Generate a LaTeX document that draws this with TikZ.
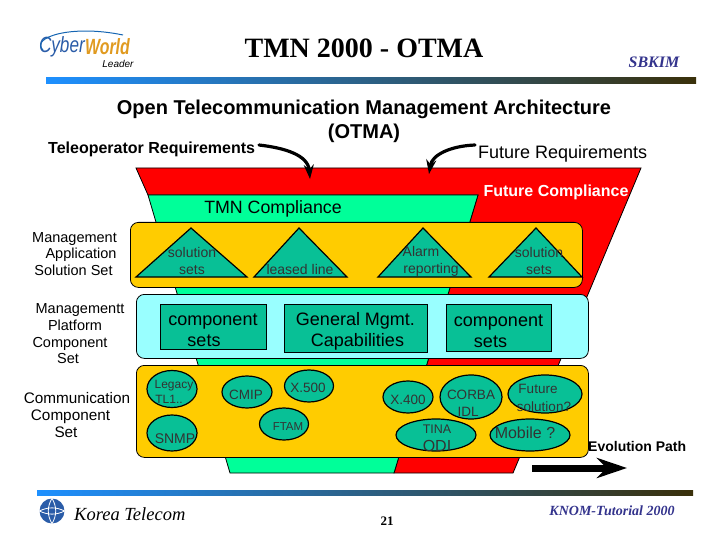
\documentclass[tikz,border=0pt]{standalone}
\usepackage{fontspec}
\setmainfont{Liberation Sans}
\newfontfamily\serifface{Liberation Serif}
\usetikzlibrary{shapes.geometric, arrows.meta, positioning}
\definecolor{funnelred}{HTML}{FF0000}
\definecolor{funnelgreen}{HTML}{00FF99}
\definecolor{bandyellow}{HTML}{FFCC00}
\definecolor{bandcyan}{HTML}{99FFFF}
\definecolor{shapeteal}{HTML}{08C096}
\definecolor{barblue}{HTML}{1E90FF}
\definecolor{bardark}{HTML}{3A300A}
\definecolor{inkblue}{HTML}{33338C}
\definecolor{logoblue}{HTML}{2A5CA8}
\definecolor{logoorange}{HTML}{E09A20}

\begin{document}
\begin{tikzpicture}[
				x=1pt,
				y=-1pt,
				funnel/.style={
					draw,
					line width=0.8pt
				},
				band/.style={
					draw,
					rectangle,
					rounded corners=8pt,
					line width=0.8pt,
					inner sep=0pt,
					anchor=north west
				},
				tri/.style={
					draw,
					fill=shapeteal,
					line width=1.2pt,
					line join=miter
				},
				sharpbox/.style={
					draw,
					rectangle,
					fill=shapeteal,
					inner sep=0pt,
					align=center,
					line width=0.6pt,
					font=\fontsize{18}{21}\selectfont
				},
				oval/.style={
					draw,
					ellipse,
					fill=shapeteal,
					inner sep=0pt,
					line width=1.2pt
				},
				caption/.style={
					align=center,
					inner sep=0pt,
					font=\fontsize{14}{17}\selectfont,
					text=black!80
				},
				side/.style={
					align=center,
					inner sep=0pt,
					font=\fontsize{14.5}{16.7}\selectfont
				},
				bar/.style={
					left color=barblue,
					right color=bardark,
					draw=none
				},
				bendarrow/.style={
					-{Stealth[length=5mm, width=3.5mm]},
					line width=3.2pt,
					line cap=round
				}
				]
				\useasboundingbox (0,0) rectangle (720,540);
				
				% Header
				\node[font=\serifface\bfseries\fontsize{28}{30}\selectfont, inner sep=0pt] (title) at (364,48) {TMN 2000 - OTMA};
				\node[font=\serifface\bfseries\itshape\fontsize{16}{18}\selectfont, text=inkblue, inner sep=0pt] (author) at (654,62) {SBKIM};
				\shade[bar] (46,78) rectangle (696,84);
				
				% Logo
				\node[font=\itshape\fontsize{22}{23}\selectfont, text=logoblue, inner sep=0pt, anchor=east] (cyber) at (85,47) {\scalebox{.78}[1]{Cyber}};
				\node[font=\itshape\bfseries\fontsize{22}{23}\selectfont, text=logoorange, inner sep=0pt, anchor=west] (world) at (85,47) {\scalebox{.72}[1]{World}};
				\node[font=\itshape\fontsize{10}{11}\selectfont, inner sep=0pt] (leader) at (118,64) {Leader};
				\draw[barblue!70!black, line width=1pt] (43,50) .. controls (30,38) and (70,24) .. (123,35);
				
				% Headings
				\node[font=\bfseries\fontsize{20}{24}\selectfont, align=center, inner sep=0pt] (heading) at (364,121) {Open Telecommunication Management Architecture\\(OTMA)};
				\node[font=\bfseries\fontsize{16}{18}\selectfont, inner sep=0pt, anchor=west] (teleop) at (48,149) {Teleoperator Requirements};
				\node[font=\fontsize{18}{20}\selectfont, inner sep=0pt, anchor=west] (future) at (478,154) {Future Requirements};
				
				% Funnel
				\draw[funnel, fill=funnelred] (136,168) -- (641,168) -- (513,473) -- (394,473) -- (478,195) -- (148,195) -- cycle;
				\draw[funnel, fill=funnelgreen] (148,195) -- (478,195) -- (394,473) -- (230,473) -- cycle;
				\node[font=\bfseries\fontsize{16}{18}\selectfont, text=white, inner sep=0pt] (futurecomp) at (556,192) {Future Compliance};
				\node[font=\fontsize{17.8}{20}\selectfont, inner sep=0pt] (tmncomp) at (273,209) {TMN Compliance};
				
				% Arrows into the funnel
				\coordinate (teleopstart) at (259,145);
				\coordinate (teleopend) at (310,179);
				\coordinate (futurestart) at (475,145);
				\coordinate (futureend) at (429,174);
				\draw[bendarrow] (teleopstart) .. controls (285,148) and (308,155) .. (teleopend);
				\draw[bendarrow] (futurestart) .. controls (450,146) and (432,155) .. (futureend);
				
				% Left side labels
				\node[side] (solutionset) at (77,254) {Management\kern5pt\\\hspace*{8pt}Application\\Solution Set\kern7pt};
				\node[side] (platformset) at (80,334) {Managementt\\Platform\kern10pt\\Component\kern20pt\\Set\kern24pt};
				\node[side, font=\fontsize{15.3}{16.7}\selectfont] (commset) at (77,415) {Communication\\Component\kern13pt\\Set\kern22pt};
				
				% Solution band
				\node[band, fill=bandyellow, minimum width=452, minimum height=65] (solutionband) at (130,222) {};
				\draw[tri] (136,277) -- (191,228) -- (247,277) -- cycle;
				\draw[tri] (254,277) -- (299,228) -- (347,277) -- cycle;
				\draw[tri] (378,277) -- (423,228) -- (471,277) -- cycle;
				\draw[tri] (489,277) -- (536,228) -- (582,277) -- cycle;
				\node[caption] (solutionone) at (192,261) {solution\\sets};
				\node[caption] (leased) at (300,269) {leased line};
				\node[caption] (alarm) at (431,261) {Alarm\kern20pt\\reporting};
				\node[caption] (solutiontwo) at (539,261) {solution\\sets};
				
				% Component band
				\node[band, fill=bandcyan, minimum width=452, minimum height=64] (componentband) at (136,294) {};
				\node[sharpbox, minimum width=106, minimum height=45] (componentone) at (213,326.5) {\rule{0pt}{19pt}component\\sets\kern18pt};
				\node[sharpbox, minimum width=143, minimum height=48] (general) at (355.5,328) {\rule{0pt}{19pt}General Mgmt.\\\hspace*{4pt}Capabilities};
				\node[sharpbox, minimum width=105, minimum height=47] (componenttwo) at (498.5,327.5) {\rule{0pt}{19pt}component\\sets\kern16pt};
				
				% Communication band
				\node[band, fill=bandyellow, minimum width=452, minimum height=92] (commband) at (136,365) {};
				\node[oval, minimum width=50, minimum height=37] (legacy) at (172,389) {};
				\node[oval, minimum width=50, minimum height=36] (snmp) at (172,433) {};
				\node[oval, minimum width=50, minimum height=32] (cmip) at (247,392) {};
				\node[oval, minimum width=49, minimum height=32] (xfivehundred) at (309,386) {};
				\node[oval, minimum width=49, minimum height=32] (ftam) at (284,424) {};
				\node[oval, minimum width=50, minimum height=32] (xfourhundred) at (408,397) {};
				\node[oval, minimum width=62, minimum height=44] (corba) at (471,397) {};
				\node[oval, minimum width=74, minimum height=38] (futuresol) at (545,394) {};
				\node[oval, minimum width=80, minimum height=32] (tina) at (436,435) {};
				\node[oval, minimum width=80, minimum height=32] (mobile) at (530,435) {};
				
				\node[caption, font=\fontsize{12}{15}\selectfont] (legacytext) at (172,392) {\hspace*{4pt}Legacy\\TL1..\kern6pt};
				\node[caption] (snmptext) at (175,439) {SNMP};
				\node[caption, font=\fontsize{13.5}{15}\selectfont] (cmiptext) at (246,395) {CMIP};
				\node[caption, font=\fontsize{13.5}{15}\selectfont] (xfivehundredtext) at (308,388) {X.500};
				\node[caption, font=\fontsize{11.5}{13}\selectfont] (ftamtext) at (288,427) {FTAM};
				\node[caption, font=\fontsize{13.5}{15}\selectfont] (xfourhundredtext) at (408,400) {X.400};
				\node[caption, font=\fontsize{13.5}{17}\selectfont] (corbatext) at (471,403) {CORBA\\IDL\kern6pt};
				\node[caption, font=\fontsize{13.5}{18}\selectfont] (futuresoltext) at (544,398) {Future\kern12pt\\solution?};
				\node[caption, font=\fontsize{12.5}{18}\selectfont] (tinatext) at (437,438) {TINA\\{\fontsize{16}{18}\selectfont ODI}};
				\node[caption, font=\fontsize{16}{18}\selectfont] (mobiletext) at (525,433) {Mobile ?};
				
				% Evolution path
				\coordinate (evostart) at (532,468);
				\coordinate (evoend) at (627,468);
				\draw[-{Stealth[length=30pt, width=20pt]}, line width=7pt] (evostart) -- (evoend);
				\node[font=\bfseries\fontsize{14}{16}\selectfont, inner sep=0pt, anchor=west] (evolution) at (588,446) {Evolution Path};
				
				% Footer
				\shade[bar] (37,490) rectangle (693,495);
				\node[draw=none, circle, fill=logoblue, minimum size=25, inner sep=0pt] (globe) at (52,511) {};
				\draw[white, line width=0.8pt] (globe.west) to[bend left=25] (globe.east);
				\draw[white, line width=0.8pt] (globe.west) to[bend right=25] (globe.east);
				\draw[white, line width=0.8pt] (globe.north) to[bend left=30] (globe.south);
				\draw[white, line width=0.8pt] (globe.north) to[bend right=30] (globe.south);
				\node[font=\serifface\itshape\fontsize{18.5}{20}\selectfont, inner sep=0pt, anchor=west] (telecom) at (74,514) {Korea Telecom};
				\node[font=\serifface\bfseries\fontsize{13}{15}\selectfont, inner sep=0pt] (pagenum) at (387,521) {21};
				\node[font=\serifface\bfseries\itshape\fontsize{14}{16}\selectfont, text=inkblue, inner sep=0pt] (tutorial) at (612,511) {KNOM-Tutorial 2000};
				
			\end{tikzpicture}
\end{document}
